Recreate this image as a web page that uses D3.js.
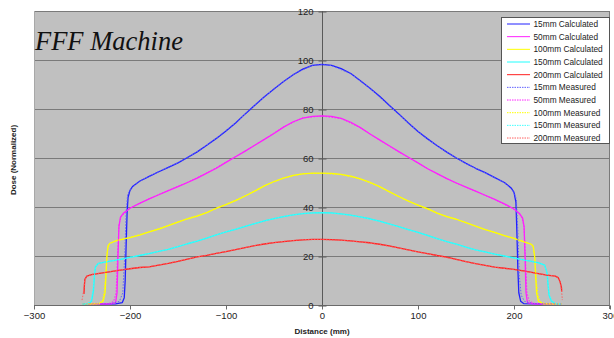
<!DOCTYPE html>
<html>
<head>
<meta charset="utf-8">
<script src="https://cdn.jsdelivr.net/npm/d3@7"></script>
<style>
  html, body { margin: 0; padding: 0; background: #fff; }
  svg { display: block; }
</style>
</head>
<body>
<svg id="chart" width="614" height="338"></svg>
<script>
// Depth-dose profile data: [distance (mm), dose (normalized)]
const xTicks = [-300, -200, -100, 0, 100, 200, 300];
const yTicks = [0, 20, 40, 60, 80, 100, 120];

const calc15 = [[-250,0.3],[-215,0.5],[-208,1],[-206,3],[-205,10],[-204,25],[-203,38],[-202,44],[-200,46.8],[-197,48.5],[-190,50.5],[-180,52.5],[-170,54.4],[-160,56.2],[-150,58],[-140,60.2],[-130,62.5],[-120,65.2],[-110,68],[-100,71],[-90,74.3],[-80,78],[-70,81.5],[-60,85],[-50,88.2],[-40,91.2],[-30,94],[-20,96.3],[-10,97.8],[0,98.2],[10,97.8],[20,96.5],[30,94.5],[40,91.5],[50,88.5],[60,85.2],[70,81.5],[80,78],[90,74.3],[100,70.8],[110,67.8],[120,65],[130,62.4],[140,60],[150,57.8],[160,55.8],[170,54],[180,52],[190,50],[197,47.8],[200,46],[202,42],[203,30],[204,15],[205,5],[207,1.5],[210,0.6],[250,0.3]];
const calc50 = [[-250,0.3],[-220,0.5],[-215,1],[-213.5,5],[-212.5,20],[-211.5,32],[-210,35.8],[-207,37.4],[-200,39.5],[-190,41.5],[-180,43.3],[-170,45],[-160,46.7],[-150,48.3],[-140,50],[-130,51.8],[-120,53.8],[-110,55.8],[-100,58.2],[-90,60.5],[-80,62.8],[-70,65.2],[-60,67.6],[-50,70],[-40,72.6],[-30,74.8],[-20,76.3],[-10,77],[0,77.2],[10,77],[20,76.2],[30,74.6],[40,72.4],[50,69.8],[60,67.4],[70,65],[80,62.6],[90,60.3],[100,58],[110,55.6],[120,53.6],[130,51.6],[140,49.8],[150,48.1],[160,46.5],[170,44.8],[180,43.1],[190,41.3],[200,39.2],[206,37.2],[209,35.5],[210.5,32],[211.5,20],[212.5,5],[214,1],[220,0.5],[250,0.3]];
const calc100 = [[-250,0.3],[-232,0.5],[-228,1.5],[-226,5],[-225,12],[-224,20],[-223,24],[-221,25.2],[-214,26.3],[-200,27.5],[-190,28.5],[-180,29.8],[-170,31],[-160,32.4],[-150,33.8],[-140,35.2],[-130,36.3],[-120,37.7],[-110,39.5],[-100,41],[-90,42.6],[-80,44.5],[-70,46.5],[-60,48.6],[-50,50.4],[-40,51.8],[-30,52.9],[-20,53.5],[-10,53.8],[0,53.8],[10,53.7],[20,53.3],[30,52.6],[40,51.5],[50,50.1],[60,48.3],[70,46.3],[80,44.3],[90,42.4],[100,40.8],[110,39.3],[120,37.5],[130,36.1],[140,35],[150,33.6],[160,32.2],[170,30.8],[180,29.6],[190,28.3],[200,27.2],[210,25.9],[218,24.8],[220,24],[221.5,20],[222.5,12],[223.5,5],[225.5,1.5],[230,0.5],[250,0.3]];
const calc150 = [[-250,0.3],[-243,0.5],[-240,1.5],[-238,6],[-237,12],[-236,15.5],[-233,17],[-225,17.6],[-210,18.6],[-200,19.4],[-190,20.2],[-180,21],[-170,21.9],[-160,22.7],[-150,23.8],[-140,25],[-130,26.1],[-120,27.3],[-110,28.6],[-100,29.8],[-90,30.9],[-80,32.1],[-70,33.2],[-60,34.3],[-50,35.3],[-40,36.1],[-30,36.8],[-20,37.3],[-10,37.6],[0,37.7],[10,37.6],[20,37.2],[30,36.7],[40,36],[50,35.2],[60,34.2],[70,33.1],[80,32],[90,30.8],[100,29.6],[110,28.4],[120,27.1],[130,25.9],[140,24.8],[150,23.6],[160,22.5],[170,21.7],[180,20.8],[190,20],[200,19.2],[210,18.4],[225,17.3],[232,16.3],[234.5,13],[235.5,8],[236.5,4],[239,1.5],[243,0.5],[250,0.3]];
const calc200 = [[-248,4.5],[-247.5,8],[-247,10.5],[-245,11.8],[-240,12.4],[-230,13],[-220,13.6],[-210,14.2],[-200,14.8],[-190,15.3],[-180,15.6],[-170,16.3],[-160,17],[-150,17.8],[-140,18.7],[-130,19.6],[-120,20.3],[-110,21.1],[-100,21.8],[-90,22.6],[-80,23.4],[-70,24.2],[-60,24.9],[-50,25.5],[-40,25.9],[-30,26.3],[-20,26.6],[-10,26.8],[0,26.8],[10,26.7],[20,26.5],[30,26.2],[40,25.8],[50,25.4],[60,24.8],[70,24.1],[80,23.3],[90,22.5],[100,21.7],[110,21],[120,20.2],[130,19.5],[140,18.6],[150,17.7],[160,16.9],[170,16.2],[180,15.5],[190,15],[200,14.5],[210,13.9],[220,13.2],[234,12.2],[243,11.8],[246,11.2],[248,9.5],[249.5,7],[249.7,5.4]];

const meas15 = [[-250,0.4],[-220,0.6],[-211,1.5],[-207.5,5],[-205.5,20],[-204,38],[-202.5,45],[-200,47],[-190,50.6],[-170,54.5],[-150,58.1],[-130,62.6],[-110,68.1],[-90,74.4],[-70,81.6],[-50,88.3],[-30,94.1],[-10,97.8],[0,98.1],[10,97.7],[30,94.4],[50,88.4],[70,81.4],[90,74.2],[110,67.7],[130,62.3],[150,57.7],[170,53.9],[190,49.9],[200,46.2],[202.5,43],[204,30],[205.5,12],[207.5,4],[211,1.5],[220,0.6],[250,0.4]];
const meas50 = [[-250,0.4],[-222,0.6],[-217,1.5],[-214.5,5],[-213,20],[-211.5,33],[-209,36.2],[-200,39.6],[-180,43.4],[-160,46.8],[-140,50.1],[-120,53.9],[-100,58.3],[-80,62.9],[-60,67.7],[-40,72.7],[-20,76.4],[0,77.1],[20,76.1],[40,72.3],[60,67.3],[80,62.5],[100,57.9],[120,53.5],[140,49.7],[160,46.4],[180,43],[200,39.1],[208,36],[210.5,32],[212,18],[213.5,5],[216,1.5],[222,0.6],[250,0.4]];
const meas100 = [[-250,0.4],[-234,0.6],[-229,1.5],[-227,5],[-225.5,12],[-224,21],[-222,24.8],[-214,26.4],[-200,27.6],[-180,29.9],[-160,32.5],[-140,35.3],[-120,37.8],[-100,41.1],[-80,44.6],[-60,48.7],[-40,51.9],[-20,53.6],[0,53.7],[20,53.2],[40,51.4],[60,48.2],[80,44.2],[100,40.7],[120,37.4],[140,34.9],[160,32.1],[180,29.5],[200,27.1],[217,24.9],[220,23.8],[222,18],[223.5,9],[225,4],[227,1.5],[232,0.6],[250,0.4]];
const meas150 = [[-250,0.4],[-245,0.6],[-241,1.5],[-239,5],[-237.5,11],[-236,15.8],[-232,17.1],[-220,17.9],[-200,19.5],[-180,21.1],[-160,22.8],[-140,25.1],[-120,27.4],[-100,29.9],[-80,32.2],[-60,34.4],[-40,36.2],[-20,37.4],[0,37.6],[20,37.1],[40,35.9],[60,34.1],[80,31.9],[100,29.5],[120,27],[140,24.7],[160,22.4],[180,20.7],[200,19.1],[220,17.6],[231,16.5],[234,14],[235.5,9],[237,4],[240,1.5],[245,0.6],[250,0.4]];
const meas200 = [[-250,2],[-249,4],[-248,7],[-247,10.2],[-244.5,11.9],[-240,12.5],[-220,13.7],[-200,14.9],[-180,15.7],[-160,17.1],[-140,18.8],[-120,20.4],[-100,21.9],[-80,23.5],[-60,25],[-40,26],[-20,26.7],[0,26.7],[20,26.4],[40,25.7],[60,24.7],[80,23.2],[100,21.6],[120,20.1],[140,18.5],[160,16.8],[180,15.4],[200,14.4],[220,13.1],[240,12],[245,11.5],[247.5,10],[249,7],[250,4],[250.3,2]];

const seriesNames = ["15mm Calculated","50mm Calculated","100mm Calculated","150mm Calculated","200mm Calculated",
                     "15mm Measured","50mm Measured","100mm Measured","150mm Measured","200mm Measured"];
const seriesData = [calc15, calc50, calc100, calc150, calc200, meas15, meas50, meas100, meas150, meas200];
const seriesColors = ["#2020ff","#ff20ff","#ffff00","#20ffff","#ff2020",
                      "#6060ff","#ff20ff","#ffff00","#40ffff","#ff6060"];
const seriesDashed = [false,false,false,false,false,true,true,true,true,true];

const svg = d3.select("#chart");
const plotLeft = 34, plotRight = 610, plotTop = 11, plotBottom = 305;

const x = d3.scaleLinear().domain([-300, 300]).range([plotLeft, plotRight]);
const y = d3.scaleLinear().domain([0, 120]).range([plotBottom, plotTop]);

// Plot area background
svg.append("rect")
  .attr("x", plotLeft).attr("y", plotTop)
  .attr("width", plotRight - plotLeft).attr("height", plotBottom - plotTop)
  .attr("fill", "#c0c0c0");

// Horizontal gridlines
svg.append("g")
  .selectAll("line")
  .data(yTicks.filter(t => t > 0))
  .join("line")
  .attr("x1", plotLeft).attr("x2", plotRight)
  .attr("y1", d => y(d) + 0.5).attr("y2", d => y(d) + 0.5)
  .attr("stroke", "#7a7a7a").attr("stroke-width", 1);

// Plot border (left/right)
svg.append("line").attr("x1", plotLeft + 0.5).attr("x2", plotLeft + 0.5).attr("y1", plotTop).attr("y2", plotBottom)
  .attr("stroke", "#a8a8a8");
svg.append("line").attr("x1", plotRight - 0.5).attr("x2", plotRight - 0.5).attr("y1", plotTop).attr("y2", plotBottom + 4)
  .attr("stroke", "#7a7a7a");

// X axis along the bottom
const xAxis = d3.axisBottom(x).tickValues(xTicks).tickSize(4).tickPadding(3);
const gx = svg.append("g").attr("transform", `translate(0,${plotBottom + 0.5})`).call(xAxis);
gx.select(".domain").attr("stroke", "#6a6a6a").attr("d", `M${plotLeft},0H${plotRight}`);
gx.selectAll(".tick line").attr("stroke", "#6a6a6a");
gx.selectAll(".tick text")
  .attr("font-family", "Liberation Sans, Arial, sans-serif")
  .attr("font-size", 9.5).attr("fill", "#222");

// Y axis through distance 0
const yAxis = d3.axisLeft(y).tickValues(yTicks).tickSize(0).tickPadding(9);
const gy = svg.append("g").attr("transform", `translate(${x(0) + 0.5},0)`).call(yAxis);
gy.select(".domain").attr("stroke", "#5a5a5a").attr("d", `M0,${plotTop}V${plotBottom}`);
gy.selectAll(".tick").append("line")
  .attr("x1", -4).attr("x2", 4).attr("y1", 0.5).attr("y2", 0.5)
  .attr("stroke", "#5a5a5a");
gy.selectAll(".tick text")
  .attr("font-family", "Liberation Sans, Arial, sans-serif")
  .attr("font-size", 9.5).attr("fill", "#222");

// Profile curves
const line = d3.line().x(d => x(d[0])).y(d => y(d[1]));
svg.append("g")
  .selectAll("path")
  .data(seriesData)
  .join("path")
  .attr("d", d => line(d))
  .attr("fill", "none")
  .attr("stroke", (d, i) => seriesColors[i])
  .attr("stroke-width", (d, i) => seriesDashed[i] ? 1 : 1.3)
  .attr("stroke-dasharray", (d, i) => seriesDashed[i] ? "1.5,1.5" : null)
  .attr("stroke-linejoin", "round");

// Title
svg.append("text")
  .attr("x", 35).attr("y", 50)
  .attr("font-family", "Liberation Serif, Times New Roman, serif")
  .attr("font-style", "italic")
  .attr("font-size", 26.5)
  .attr("fill", "#111")
  .text("FFF Machine");

// Axis titles
svg.append("text")
  .attr("x", x(0)).attr("y", 334)
  .attr("text-anchor", "middle")
  .attr("font-family", "Liberation Sans, Arial, sans-serif")
  .attr("font-size", 8).attr("font-weight", "bold").attr("fill", "#222")
  .text("Distance (mm)");
svg.append("text")
  .attr("transform", "translate(16,160) rotate(-90)")
  .attr("text-anchor", "middle")
  .attr("font-family", "Liberation Sans, Arial, sans-serif")
  .attr("font-size", 8).attr("font-weight", "bold").attr("fill", "#222")
  .text("Dose (Normalized)");

// Legend
const lg = svg.append("g");
lg.append("rect")
  .attr("x", 501.5).attr("y", 17.5).attr("width", 108).attr("height", 126)
  .attr("fill", "#fff").attr("stroke", "#555");
const rowH = 12.67;
const items = lg.selectAll("g.item")
  .data(seriesNames)
  .join("g").attr("class", "item")
  .attr("transform", (d, i) => `translate(0,${23.5 + i * rowH})`);
items.append("line")
  .attr("x1", 507).attr("x2", 530).attr("y1", 0.5).attr("y2", 0.5)
  .attr("stroke", (d, i) => seriesColors[i])
  .attr("stroke-width", 1)
  .attr("stroke-dasharray", (d, i) => seriesDashed[i] ? "1.5,1" : null);
items.append("text")
  .attr("x", 533.5).attr("y", 3.4)
  .attr("font-family", "Liberation Sans, Arial, sans-serif")
  .attr("font-size", 8.3).attr("fill", "#222")
  .text(d => d);
</script>
</body>
</html>
